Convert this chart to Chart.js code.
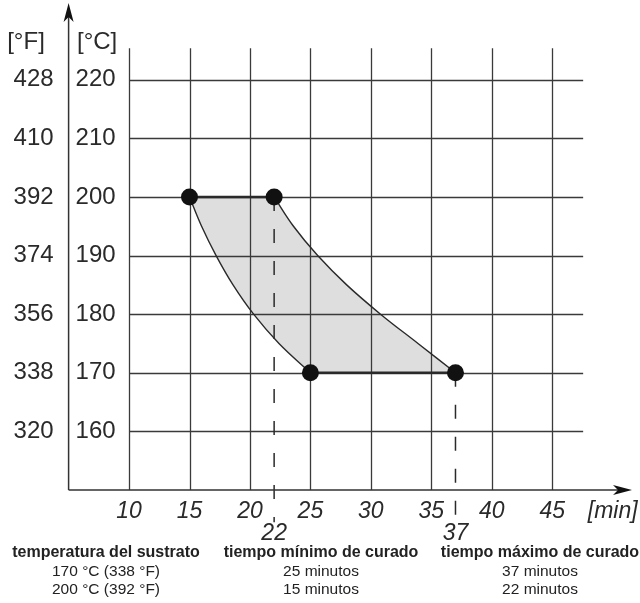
<html>
<head>
<style>
  html, body { margin: 0; padding: 0; background: #fff; }
  #wrap { position: relative; width: 640px; height: 603px; }
  .col { position: absolute; width: 230px; text-align: center; color: #222;
         font-family: "Liberation Sans", Arial, sans-serif; }
  .col .h { font-weight: bold; font-size: 16px; line-height: 18.5px; }
  .col .v { font-size: 15.5px; line-height: 18.5px; }
</style>
</head>
<body>
<script src="https://cdn.jsdelivr.net/npm/chart.js@4.4.0/dist/chart.umd.min.js"></script>
<div id="wrap">
  <canvas id="myChart" width="640" height="603"></canvas>
  <div id="table"></div>
</div>
<script>
// axis ticks
var cTicks = [160, 170, 180, 190, 200, 210, 220];
var fTicks = ['320', '338', '356', '374', '392', '410', '428'];
var xTicks = [10, 15, 20, 25, 30, 35, 40, 45];
var xUnit = '[min]';
var xUnitAt = 50;

// boundary curves of the curing window
var leftX = [25, 22.4, 20.3, 18.6, 17.2, 16.0, 15];
var leftY = [170, 175, 180, 185, 190, 195, 200];
var rightX = [37, 33.9, 30.8, 28.0, 25.6, 23.6, 22];
var rightY = [170, 175, 180, 185, 190, 195, 200];

// corner points
var cornerX = [15, 22, 25, 37];
var cornerY = [200, 200, 170, 170];

// marked times with dashed drop lines
var markX = [22, 37];
var markY = [200, 170];

// table under the chart
var headers = ['temperatura del sustrato', 'tiempo mínimo de curado', 'tiempo máximo de curado'];
var rowTemp = ['170 °C (338 °F)', '200 °C (392 °F)'];
var rowMin = ['25 minutos', '15 minutos'];
var rowMax = ['37 minutos', '22 minutos'];

var FONT = '"Liberation Sans", Arial, sans-serif';
var INK = '#2a2a2a';

function pts(xs, ys) {
    return xs.map(function (x, i) { return { x: x, y: ys[i] }; });
}
// the axes must not push the plot area around
function noPad(s) {
    s.paddingTop = 0; s.paddingBottom = 0; s.paddingLeft = 0; s.paddingRight = 0;
}

// table
var cols = [[headers[0]].concat(rowTemp), [headers[1]].concat(rowMin), [headers[2]].concat(rowMax)];
var centers = [106, 321, 540];
var tbl = document.getElementById('table');
cols.forEach(function (c, i) {
    var d = document.createElement('div');
    d.className = 'col';
    d.style.left = (centers[i] - 115) + 'px';
    d.style.top = '543px';
    d.innerHTML = '<div class="h">' + c[0] + '</div><div class="v">' + c[1] + '</div><div class="v">' + c[2] + '</div>';
    tbl.appendChild(d);
});

var deco = {
    id: 'deco',
    beforeDatasetsDraw: function (chart) {
        var ctx = chart.ctx, xs = chart.scales.x, ys = chart.scales.y;
        ctx.save();
        ctx.strokeStyle = '#3a3a3a';
        ctx.lineWidth = 1.3;
        ctx.beginPath();
        xTicks.forEach(function (v) {
            var px = Math.round(xs.getPixelForValue(v)) + 0.5;
            ctx.moveTo(px, ys.getPixelForValue(150));
            ctx.lineTo(px, ys.getPixelForValue(225.4));
        });
        cTicks.forEach(function (v) {
            var py = Math.round(ys.getPixelForValue(v)) + 0.5;
            ctx.moveTo(xs.getPixelForValue(10), py);
            ctx.lineTo(xs.getPixelForValue(47.56), py);
        });
        ctx.stroke();
        ctx.restore();
    },
    afterDraw: function (chart) {
        var ctx = chart.ctx, a = chart.chartArea, xs = chart.scales.x;
        ctx.save();
        ctx.strokeStyle = '#333';
        ctx.fillStyle = '#111';
        ctx.lineWidth = 1.5;
        // axes
        ctx.beginPath();
        ctx.moveTo(a.left, a.bottom);
        ctx.lineTo(a.left, a.top + 10);
        ctx.moveTo(a.left, a.bottom);
        ctx.lineTo(a.right - 10, a.bottom);
        ctx.stroke();
        // arrow heads
        ctx.beginPath();
        ctx.moveTo(a.left, a.top);
        ctx.lineTo(a.left - 5, a.top + 19);
        ctx.lineTo(a.left, a.top + 14);
        ctx.lineTo(a.left + 5, a.top + 19);
        ctx.closePath();
        ctx.fill();
        ctx.beginPath();
        ctx.moveTo(a.right, a.bottom);
        ctx.lineTo(a.right - 19, a.bottom - 5);
        ctx.lineTo(a.right - 14, a.bottom);
        ctx.lineTo(a.right - 19, a.bottom + 5);
        ctx.closePath();
        ctx.fill();
        // unit headers
        ctx.fillStyle = INK;
        ctx.font = '24px ' + FONT;
        ctx.textBaseline = 'alphabetic';
        ctx.textAlign = 'center';
        ctx.fillText('[°F]', 26, 49);
        ctx.textAlign = 'left';
        ctx.fillText('[°C]', 77, 49);
        // low labels for marked times
        ctx.font = 'italic 23px ' + FONT;
        ctx.textAlign = 'center';
        markX.forEach(function (v) {
            ctx.fillText(String(v), xs.getPixelForValue(v), 540);
        });
        ctx.restore();
    }
};

var lineBase = { pointRadius: 0, borderColor: INK, fill: false, tension: 0 };

var datasets = [
    Object.assign({}, lineBase, { label: 'left', data: pts(leftX, leftY), borderWidth: 1.4, tension: 0.4, order: 5 }),
    Object.assign({}, lineBase, { label: 'right', data: pts(rightX, rightY), borderWidth: 1.4, tension: 0.4,
        fill: '-1', backgroundColor: '#dedede', order: 5 }),
    Object.assign({}, lineBase, { label: 'top', data: pts(cornerX.slice(0, 2), cornerY.slice(0, 2)), borderWidth: 2.6, order: 4 }),
    Object.assign({}, lineBase, { label: 'bottom', data: pts(cornerX.slice(2), cornerY.slice(2)), borderWidth: 2.6, order: 4 })
];
markX.forEach(function (v, i) {
    datasets.push(Object.assign({}, lineBase, {
        label: 'mark' + v, data: [{ x: v, y: markY[i] }, { x: v, y: 144.5 }],
        borderWidth: 1.5, borderDash: [14, 18], clip: false, order: 3
    }));
});
datasets.push({
    label: 'points', data: pts(cornerX, cornerY), showLine: false,
    pointRadius: 8.5, pointBackgroundColor: '#111', pointBorderColor: '#111', pointBorderWidth: 0,
    order: 0
});

var ctx = document.getElementById('myChart').getContext('2d');
new Chart(ctx, {
    type: 'line',
    data: { datasets: datasets },
    options: {
        indexAxis: 'y',
        responsive: false,
        animation: false,
        layout: { autoPadding: false, padding: { top: 3, right: 8, left: 0, bottom: 0 } },
        plugins: {
            legend: { display: false },
            tooltip: { enabled: false },
            filler: { drawTime: 'beforeDatasetsDraw' }
        },
        scales: {
            x: {
                type: 'linear', position: 'bottom', min: 5, max: 51.6,
                grid: { display: false, drawTicks: false }, border: { display: false },
                afterBuildTicks: function (s) { s.ticks = xTicks.concat([xUnitAt]).map(function (v) { return { value: v }; }); },
                afterFit: function (s) { s.height = 113; noPad(s); },
                ticks: {
                    padding: 8, color: INK, font: { family: FONT, size: 23, style: 'italic' },
                    autoSkip: false, maxRotation: 0,
                    callback: function (v) { return v === xUnitAt ? xUnit : String(v); }
                }
            },
            y: {
                type: 'linear', position: 'left', min: 150, max: 233.1, weight: 0,
                grid: { display: false, drawTicks: false }, border: { display: false },
                afterBuildTicks: function (s) { s.ticks = cTicks.map(function (v) { return { value: v }; }); },
                afterFit: function (s) { s.width = 0; noPad(s); },
                ticks: {
                    mirror: true, padding: 7, color: INK, font: { family: FONT, size: 24 },
                    callback: function (v) { return String(v); }
                }
            },
            f: {
                type: 'linear', position: 'left', min: 150, max: 233.1, weight: 1,
                grid: { display: false, drawTicks: false }, border: { display: false },
                afterBuildTicks: function (s) { s.ticks = cTicks.map(function (v) { return { value: v }; }); },
                afterFit: function (s) { s.width = 68.6; noPad(s); },
                ticks: {
                    padding: 15, color: INK, font: { family: FONT, size: 24 },
                    callback: function (v) { return fTicks[cTicks.indexOf(v)]; }
                }
            }
        }
    },
    plugins: [deco]
});
</script>
</body>
</html>
